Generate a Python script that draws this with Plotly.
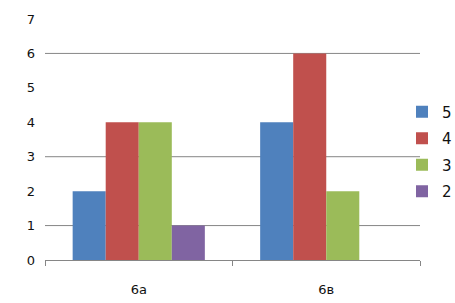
import plotly.graph_objects as go

categories = ["6а", "6в"]
series_names = ["5", "4", "3", "2"]
values_5 = [2, 4]
values_4 = [4, 6]
values_3 = [4, 2]
values_2 = [1, 0]
colors = ["#4F81BD", "#C0504D", "#9BBB59", "#8064A2"]
grid_values = [1, 3, 6]
y_ticks = [0, 1, 2, 3, 4, 5, 6, 7]

fig = go.Figure()
for name, vals, col in zip(series_names, [values_5, values_4, values_3, values_2], colors):
    fig.add_trace(go.Bar(x=categories, y=vals, name=name, legendgroup=name,
                         marker=dict(color=col, line=dict(width=0))))

for g in grid_values:
    fig.add_shape(type="line", xref="paper", yref="y", x0=0, x1=1, y0=g, y1=g,
                  line=dict(color="#868686", width=1), layer="below")

fig.update_layout(
    width=455, height=303,
    margin=dict(l=45, r=35, t=19, b=43, autoexpand=False),
    paper_bgcolor="white", plot_bgcolor="white",
    barmode="group", bargap=0.295, bargroupgap=0,
    font=dict(family="DejaVu Sans", size=12, color="#111111"),
    showlegend=True,
    legend=dict(x=0.952, xanchor="left", y=0.45, yanchor="middle",
                font=dict(size=15), itemwidth=30, tracegroupgap=4,
                traceorder="grouped", bgcolor="rgba(0,0,0,0)"),
    xaxis=dict(type="category", showline=True, linecolor="#868686", linewidth=1,
               ticks="outside", tickson="boundaries", ticklen=5, tickcolor="#868686",
               showgrid=False, tickfont=dict(size=13), ticklabelstandoff=17),
    yaxis=dict(range=[0, 7], tickvals=y_ticks, showgrid=False, zeroline=False,
               showline=False, ticks="", tickfont=dict(size=13), ticklabelstandoff=9),
)

fig.write_html("out.html")
